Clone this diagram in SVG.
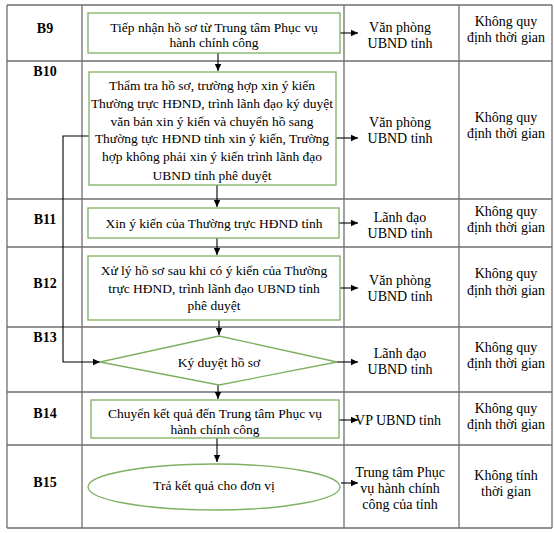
<svg xmlns="http://www.w3.org/2000/svg" width="554" height="533" viewBox="0 0 554 533">
<style>
text{font-family:"Liberation Serif","Times New Roman",serif;font-size:14px;fill:#000;text-anchor:middle}
.bx{font-size:13.5px}
.lbl{font-weight:bold}
.grid line{stroke:#6e6e6e;stroke-width:1.3}
.node rect,.node polygon,.node ellipse{fill:#fff;stroke:#7fb062;stroke-width:1.3}
.conn path{fill:none;stroke:#000;stroke-width:1.1}
</style>
<defs>
<marker id="ah" markerWidth="8" markerHeight="8" refX="7" refY="4" orient="auto" markerUnits="userSpaceOnUse">
<path d="M0,0.8 L7,4 L0,7.2 Z" fill="#000"/>
</marker>
</defs>
<rect x="0" y="0" width="554" height="533" fill="#fff"/>
<g id="table" class="grid">
<line x1="7" y1="5" x2="552" y2="5"/>
<line x1="7" y1="61" x2="552" y2="61"/>
<line x1="7" y1="199" x2="552" y2="199"/>
<line x1="7" y1="247" x2="552" y2="247"/>
<line x1="7" y1="327" x2="552" y2="327"/>
<line x1="7" y1="392" x2="552" y2="392"/>
<line x1="7" y1="445" x2="552" y2="445"/>
<line x1="7" y1="528" x2="552" y2="528"/>
<line x1="7" y1="5" x2="7" y2="528"/>
<line x1="82" y1="5" x2="82" y2="528"/>
<line x1="344" y1="5" x2="344" y2="528"/>
<line x1="459" y1="5" x2="459" y2="528"/>
<line x1="552" y1="5" x2="552" y2="528"/>
</g>
<g id="labels">
<text class="lbl" x="45" y="33">B9</text>
<text class="lbl" x="45" y="76">B10</text>
<text class="lbl" x="45" y="224">B11</text>
<text class="lbl" x="45" y="288">B12</text>
<text class="lbl" x="45" y="342">B13</text>
<text class="lbl" x="45" y="418">B14</text>
<text class="lbl" x="45" y="487">B15</text>
</g>
<g id="connectors" class="conn">
<path d="M218,53 V71" marker-end="url(#ah)"/>
<path d="M340,33 H358" marker-end="url(#ah)"/>
<path d="M336,138 H358" marker-end="url(#ah)"/>
<path d="M89,136 H63 V362 H100" marker-end="url(#ah)"/>
<path d="M217,185 V207" marker-end="url(#ah)"/>
<path d="M339,223 H358" marker-end="url(#ah)"/>
<path d="M217,238 V255" marker-end="url(#ah)"/>
<path d="M340,288 H358" marker-end="url(#ah)"/>
<path d="M219,320 V335" marker-end="url(#ah)"/>
<path d="M337,362 H358" marker-end="url(#ah)"/>
<path d="M218,385 V399" marker-end="url(#ah)"/>
<path d="M339,420 H358" marker-end="url(#ah)"/>
<path d="M217,438 V462" marker-end="url(#ah)"/>
<path d="M341,483 H358" marker-end="url(#ah)"/>
</g>
<g id="n-b9">
<g class="node"><rect x="88" y="13" width="252" height="40"/></g>
<text class="bx" x="214" y="32">Tiếp nhận hồ sơ từ Trung tâm Phục vụ</text>
<text class="bx" x="214" y="47">hành chính công</text>
</g>
<g id="n-b10">
<g class="node"><rect x="89" y="72" width="247" height="113"/></g>
<text class="bx" x="212" y="90">Thẩm tra hồ sơ, trường hợp xin ý kiến</text>
<text class="bx" x="212" y="108">Thường trực HĐND, trình lãnh đạo ký duyệt</text>
<text class="bx" x="212" y="126">văn bản xin ý kiến và chuyển hồ sang</text>
<text class="bx" x="212" y="143">Thường tực HĐND tỉnh xin ý kiến, Trường</text>
<text class="bx" x="212" y="161">hợp không phải xin ý kiến trình lãnh đạo</text>
<text class="bx" x="212" y="180">UBND tỉnh phê duyệt</text>
</g>
<g id="n-b11">
<g class="node"><rect x="88" y="208" width="251" height="30"/></g>
<text class="bx" x="214" y="228">Xin ý kiến của Thường trực HĐND tỉnh</text>
</g>
<g id="n-b12">
<g class="node"><rect x="88" y="256" width="252" height="64"/></g>
<text class="bx" x="214" y="275">Xử lý hồ sơ sau khi có ý kiến của Thường</text>
<text class="bx" x="214" y="293">trực HĐND, trình lãnh đạo UBND tỉnh</text>
<text class="bx" x="214" y="310">phê duyệt</text>
</g>
<g id="n-b13">
<g class="node"><polygon points="219,336 337,362 219,385 100,362"/></g>
<text class="bx" x="219" y="367">Ký duyệt hồ sơ</text>
</g>
<g id="n-b14">
<g class="node"><rect x="91" y="400" width="248" height="38"/></g>
<text class="bx" x="215" y="418">Chuyển kết quả đến Trung tâm Phục vụ</text>
<text class="bx" x="215" y="434">hành chính công</text>
</g>
<g id="n-b15">
<g class="node"><ellipse cx="214" cy="487" rx="126" ry="23"/></g>
<text class="bx" x="214" y="490">Trả kết quả cho đơn vị</text>
</g>
<g id="col3">
<text x="400" y="32">Văn phòng</text>
<text x="400" y="48">UBND tỉnh</text>
<text x="400" y="127">Văn phòng</text>
<text x="400" y="143">UBND tỉnh</text>
<text x="400" y="222">Lãnh đạo</text>
<text x="400" y="238">UBND tỉnh</text>
<text x="400" y="285">Văn phòng</text>
<text x="400" y="301">UBND tỉnh</text>
<text x="400" y="358">Lãnh đạo</text>
<text x="400" y="374">UBND tỉnh</text>
<text x="398" y="425">VP UBND tỉnh</text>
<text x="400" y="477">Trung tâm Phục</text>
<text x="400" y="493">vụ hành chính</text>
<text x="400" y="509">công của tỉnh</text>
</g>
<g id="col4">
<text x="506" y="26">Không quy</text>
<text x="506" y="42">định thời gian</text>
<text x="506" y="122">Không quy</text>
<text x="506" y="138">định thời gian</text>
<text x="506" y="216">Không quy</text>
<text x="506" y="232">định thời gian</text>
<text x="506" y="278">Không quy</text>
<text x="506" y="295">định thời gian</text>
<text x="506" y="352">Không quy</text>
<text x="506" y="368">định thời gian</text>
<text x="506" y="413">Không quy</text>
<text x="506" y="429">định thời gian</text>
<text x="506" y="480">Không tính</text>
<text x="506" y="496">thời gian</text>
</g>
</svg>
